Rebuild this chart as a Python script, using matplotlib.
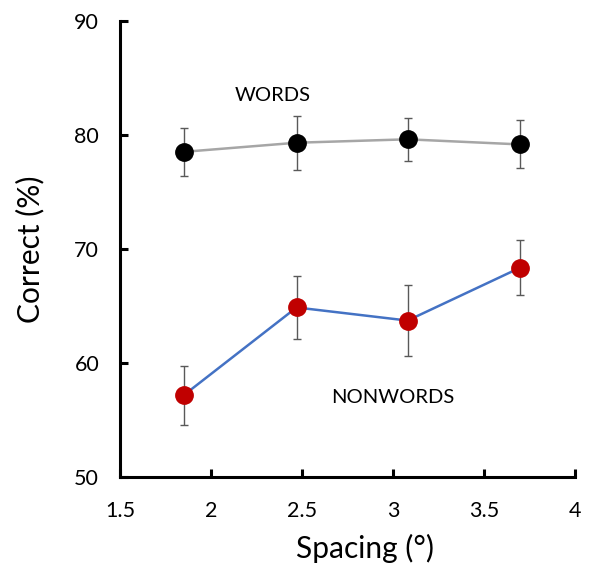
import matplotlib.pyplot as plt

# Data
spacing = [1.85, 2.47, 3.08, 3.70]
words = [78.55, 79.35, 79.65, 79.2]
words_err = [2.1, 2.35, 1.9, 2.1]
nonwords = [57.2, 64.9, 63.75, 68.4]
nonwords_err = [2.6, 2.75, 3.1, 2.4]

xticks = [1.5, 2, 2.5, 3, 3.5, 4]
xticklabels = ['1.5', '2', '2.5', '3', '3.5', '4']
yticks = [50, 60, 70, 80, 90]

plt.rcParams['font.family'] = ['Lato', 'DejaVu Sans']

fig = plt.figure(figsize=(5.91, 5.70), dpi=100)
ax = fig.add_axes([0.203, 0.1626, 0.770, 0.800])

# Error bars first, markers on top
ax.errorbar(spacing, words, yerr=words_err, fmt='none', ecolor='#595959',
            elinewidth=1.0, capsize=3, capthick=1.0, zorder=1)
ax.errorbar(spacing, nonwords, yerr=nonwords_err, fmt='none', ecolor='#595959',
            elinewidth=1.0, capsize=3, capthick=1.0, zorder=1)

ax.plot(spacing, words, color='#A6A6A6', linewidth=1.8, zorder=2)
ax.plot(spacing, nonwords, color='#4472C4', linewidth=1.8, zorder=2)
ax.plot(spacing, words, 'o', color='black', markersize=12.5, zorder=3)
ax.plot(spacing, nonwords, 'o', color='#C00000', markersize=12.5, zorder=3)

ax.text(2.34, 83.45, 'WORDS', fontsize=14.5, ha='center', va='center')
ax.text(3.0, 57.0, 'NONWORDS', fontsize=14.5, ha='center', va='center')

ax.set_xlim(1.5, 4)
ax.set_ylim(50, 90)
ax.set_xticks(xticks)
ax.set_xticklabels(xticklabels)
ax.set_yticks(yticks)

for side in ['top', 'right']:
    ax.spines[side].set_visible(False)
for side in ['left', 'bottom']:
    ax.spines[side].set_linewidth(2.2)

ax.tick_params(axis='both', direction='in', length=6, width=2.2,
               labelsize=15.5, pad=15)
ax.tick_params(axis='x', pad=17)

ax.set_xlabel('Spacing (°)', fontsize=21.5)
ax.set_ylabel('Correct (%)', fontsize=21.5)
ax.xaxis.set_label_coords(0.538, -0.125)
ax.yaxis.set_label_coords(-0.165, 0.5)

plt.savefig('out.png', dpi=100)
